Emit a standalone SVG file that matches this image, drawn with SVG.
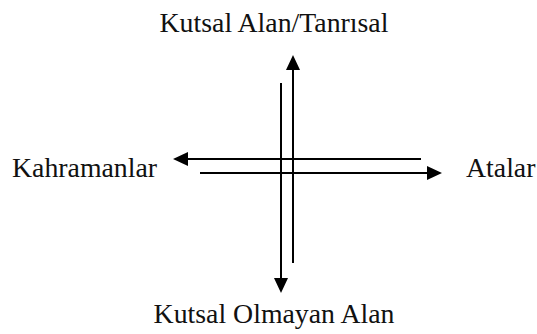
<svg xmlns="http://www.w3.org/2000/svg" width="537" height="334" viewBox="0 0 537 334">
<style>
.t{font-family:"Liberation Serif","Times New Roman",serif;font-size:27.8px;fill:#111}
.l{stroke:#000;stroke-width:2;fill:none}
.h{fill:#000}
</style>
<rect width="537" height="334" fill="#fff"/>
<g id="connectors">
<line class="l" x1="293" y1="68" x2="293" y2="263"/>
<polygon class="h" points="293,55 286,70 300,70"/>
<line class="l" x1="281" y1="83" x2="281" y2="279"/>
<polygon class="h" points="281,293 274,278 288,278"/>
<line class="l" x1="186" y1="159" x2="421" y2="159"/>
<polygon class="h" points="173,159 188,152 188,166"/>
<line class="l" x1="200" y1="173" x2="428" y2="173"/>
<polygon class="h" points="442,173 427,166 427,180"/>
</g>
<g id="top"><text class="t" x="274" y="32" text-anchor="middle">Kutsal Alan/Tanrısal</text></g>
<g id="left"><text class="t" x="12" y="177">Kahramanlar</text></g>
<g id="right"><text class="t" x="466" y="177">Atalar</text></g>
<g id="bottom"><text class="t" x="274" y="323" text-anchor="middle">Kutsal Olmayan Alan</text></g>
</svg>
